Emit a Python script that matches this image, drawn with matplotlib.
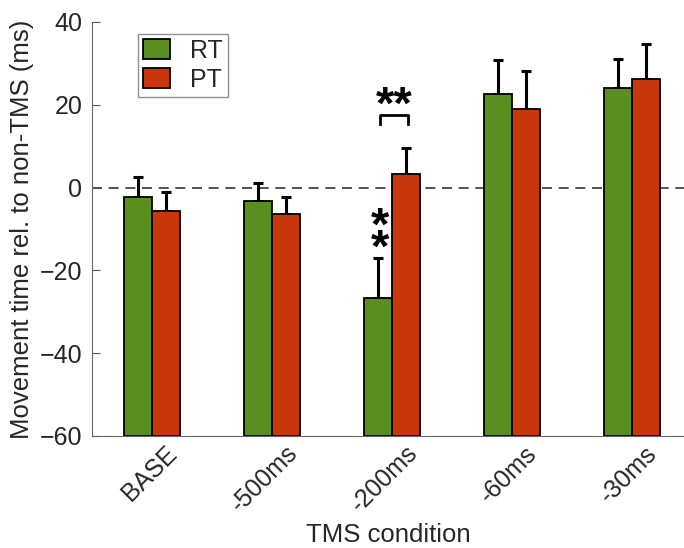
import matplotlib.pyplot as plt
import matplotlib.transforms as mtransforms
import numpy as np

plt.rcParams['font.family'] = ['Liberation Sans', 'DejaVu Sans']

conditions = ["BASE", "-500ms", "-200ms", "-60ms", "-30ms"]
rt_mean = [-2.2, -3.2, -26.6, 22.5, 24.1]
rt_err = [4.8, 4.3, 9.7, 8.2, 6.9]
pt_mean = [-5.6, -6.4, 3.4, 19.1, 26.3]
pt_err = [4.6, 4.1, 6.1, 9.1, 8.4]

green = "#5a8e1f"
red = "#c8370b"
txt = "#262626"
ybase = -60

fig = plt.figure(figsize=(6.84, 5.48), dpi=100)
ax = fig.add_axes([0.1345, 0.2044, 0.8655, 0.7555])

x = np.arange(1, len(conditions) + 1)
w = 0.233

# bars are drawn up from the bottom of the axis
ax.bar(x - w / 2, np.array(rt_mean) - ybase, w, bottom=ybase, color=green,
       edgecolor="black", linewidth=1.3, label="RT", zorder=2)
ax.bar(x + w / 2, np.array(pt_mean) - ybase, w, bottom=ybase, color=red,
       edgecolor="black", linewidth=1.3, label="PT", zorder=2)
ax.errorbar(x - w / 2, rt_mean, yerr=[np.zeros(len(x)), rt_err], fmt="none",
            ecolor="black", elinewidth=2.2, capsize=3.3, capthick=2.2, zorder=1)
ax.errorbar(x + w / 2, pt_mean, yerr=[np.zeros(len(x)), pt_err], fmt="none",
            ecolor="black", elinewidth=2.2, capsize=3.3, capthick=2.2, zorder=1)

ax.axhline(0, color="#333333", linestyle=(0, (6, 4)), linewidth=1.2, zorder=0)

# significance marks
ax.text(2.9, -9.7, "*", fontsize=34, fontweight="bold", ha="center", va="center")
ax.text(2.9, -15.0, "*", fontsize=34, fontweight="bold", ha="center", va="center")
ax.plot([2.9, 2.9, 3.13, 3.13], [15.4, 17.5, 17.5, 15.4], color="black", linewidth=2)
ax.text(3.015, 19.5, "**", fontsize=34, fontweight="bold", ha="center", va="center")

ax.set_xlim(0.5, 5.433)
ax.set_ylim(-60, 40)
ax.set_yticks([-60, -40, -20, 0, 20, 40])
ax.set_xticks(x)
ax.set_xticklabels(conditions, rotation=45, ha="right", rotation_mode="anchor")
ax.tick_params(axis="y", direction="in", length=6, color="#555555", labelsize=18,
               pad=7, labelcolor=txt)
ax.tick_params(axis="x", length=0, labelsize=18, pad=0, labelcolor=txt)
shift = mtransforms.ScaledTranslation(0.13, -0.05, fig.dpi_scale_trans)
for lab in ax.get_xticklabels():
    lab.set_transform(lab.get_transform() + shift)

for s in ["top", "right"]:
    ax.spines[s].set_visible(False)
for s in ["left", "bottom"]:
    ax.spines[s].set_color("#666666")

ax.set_xlabel("TMS condition", fontsize=18.5, color=txt, labelpad=4)
ax.set_ylabel("Movement time rel. to non-TMS (ms)", fontsize=18.5, color=txt, labelpad=4)

leg = ax.legend(loc="upper left", bbox_to_anchor=(0.0777, 0.971), borderaxespad=0,
                fontsize=18, fancybox=False, edgecolor="#777777", handlelength=1.1,
                handleheight=0.85, borderpad=0.2, labelspacing=0.2, handletextpad=0.8)
leg.get_frame().set_linewidth(1)
for t in leg.get_texts():
    t.set_color(txt)

fig.savefig("out.png", dpi=100)
